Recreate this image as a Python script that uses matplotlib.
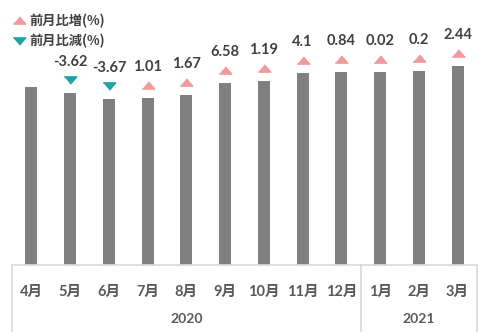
import matplotlib
matplotlib.use("Agg")
import matplotlib.pyplot as plt
import matplotlib.transforms as mtransforms
import numpy as np

plt.rcParams['font.family'] = ['Lato', 'Noto Sans CJK JP', 'DejaVu Sans']

months = ['4月', '5月', '6月', '7月', '8月', '9月', '10月', '11月', '12月', '1月', '2月', '3月']
years = ['2020', '2021']
year_counts = [9, 3]
# bar heights (index level, no axis shown)
levels = [178, 172, 166, 167, 170, 182, 184, 192, 193, 193, 194, 199]
# month-over-month change (%), None where no marker
changes = [None, -3.62, -3.67, 1.01, 1.67, 6.58, 1.19, 4.1, 0.84, 0.02, 0.2, 2.44]

bar_color = '#808080'
up_color = '#F09A9A'
down_color = '#1BA6A6'
text_color = '#404040'
line_color = '#D9D9D9'

W, H = 493, 332
fig = plt.figure(figsize=(W / 100, H / 100), dpi=100)
ax = fig.add_axes([12 / W, (H - 265) / H, 465 / W, 265 / H])

x = np.arange(len(months))
ax.bar(x, levels, width=0.31, color=bar_color)
ax.set_xlim(-0.5, len(months) - 0.5)
ax.set_ylim(0, 265)
ax.set_yticks([])
for s in ['top', 'right', 'left']:
    ax.spines[s].set_visible(False)
ax.spines['bottom'].set_color(line_color)
ax.spines['bottom'].set_linewidth(1.2)

ax.set_xticks(x)
ax.set_xticklabels(months, fontsize=10.5, fontweight='bold', color='#595959')
ax.tick_params(axis='x', length=0, pad=14)

# flattened triangles like the Excel markers
up_tri = [(-1, -0.58), (1, -0.58), (0, 0.58)]
down_tri = [(-1, 0.58), (1, 0.58), (0, -0.58)]

mk_off = mtransforms.offset_copy(ax.transData, fig=fig, x=0, y=13, units='dots')
for xi, lv, ch in zip(x, levels, changes):
    if ch is None:
        continue
    mk = up_tri if ch > 0 else down_tri
    col = up_color if ch > 0 else down_color
    ax.plot(xi, lv, marker=mk, markersize=9, color=col, linestyle='none',
            transform=mk_off, clip_on=False)
    ax.annotate('{:g}'.format(ch), (xi, lv), xytext=(0, 31 * 0.72), textcoords='offset points',
                ha='center', va='center', fontsize=10.5, fontweight='bold', color=text_color)

# category group boxes under the axis
bounds = np.cumsum([0] + year_counts) - 0.5
for b in bounds:
    ax.plot([b, b], [0, -67], color=line_color, lw=1.2, clip_on=False)
for i, yr in enumerate(years):
    mid = (bounds[i] + bounds[i + 1]) / 2
    ax.text(mid, -54, yr, ha='center', va='center', fontsize=10,
            color='#595959', fontweight='bold')

# legend
ax.plot([], [], marker=up_tri, markersize=9, color=up_color, linestyle='none', label='前月比増(%)')
ax.plot([], [], marker=down_tri, markersize=9, color=down_color, linestyle='none', label='前月比減(%)')
leg = fig.legend(loc='upper left', bbox_to_anchor=(0.0, 0.995), frameon=False,
                 handletextpad=0.2, labelspacing=0.45, handlelength=1.1,
                 prop={'family': ['Noto Sans CJK JP'], 'size': 9.5, 'weight': 'bold'})
for t in leg.get_texts():
    t.set_color(text_color)

fig.savefig('out.png', dpi=100)
